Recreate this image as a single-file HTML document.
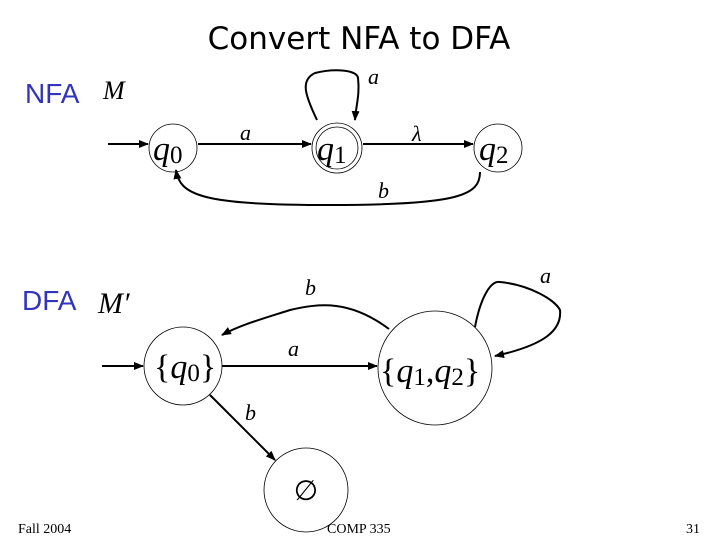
<!DOCTYPE html>
<html><head><meta charset="utf-8"><style>
html,body{margin:0;padding:0;background:#fff}
svg{display:block}
.m{font-family:"Liberation Serif",serif;font-style:italic}
</style></head><body>
<svg width="720" height="540" viewBox="0 0 720 540" xmlns="http://www.w3.org/2000/svg">
<defs><marker id="ar" markerWidth="10" markerHeight="8" refX="9" refY="4" orient="auto" markerUnits="userSpaceOnUse"><path d="M0,0 L10,4 L0,8 z" fill="#000"/></marker></defs>
<text x="359" y="49" text-anchor="middle" font-family="'Comic Sans MS','DejaVu Sans',sans-serif" font-size="31" fill="#000">Convert NFA to DFA</text>
<text x="25" y="103" font-family="'Liberation Sans',sans-serif" font-size="28" fill="#3333bb">NFA</text>
<text x="103" y="99" class="m" font-size="26">M</text>
<text x="22" y="310" font-family="'Liberation Sans',sans-serif" font-size="28" fill="#3333bb">DFA</text>
<text x="98" y="313" class="m" font-size="30">M′</text>
<g fill="none" stroke="#000" stroke-width="0.8">
<circle cx="173" cy="148" r="24"/>
<circle cx="337" cy="148" r="25"/><circle cx="337" cy="148" r="21"/>
<circle cx="498" cy="148" r="24"/>
<circle cx="183" cy="366" r="39"/>
<circle cx="435" cy="368" r="57"/>
<circle cx="306" cy="490" r="42"/>
</g>
<g fill="none" stroke="#000" stroke-width="2">
<line x1="108" y1="144" x2="148" y2="144" marker-end="url(#ar)"/>
<line x1="198" y1="144" x2="311" y2="144" marker-end="url(#ar)"/>
<line x1="363" y1="144" x2="473" y2="144" marker-end="url(#ar)"/>
<path d="M317,120 C305,95 300,80 315,73 C335,68 357,70 358,78 C360,95 356,105 355,120" marker-end="url(#ar)"/>
<path d="M480,172 C480,195 460,205 330,205 C200,205 180,195 176,170" marker-end="url(#ar)"/>
<line x1="102" y1="366" x2="143" y2="366" marker-end="url(#ar)"/>
<line x1="222" y1="366" x2="377" y2="366" marker-end="url(#ar)"/>
<path d="M389,329 C350,300 320,303 290,310 C265,318 240,325 222,335" marker-end="url(#ar)"/>
<path d="M475,327 C480,300 490,280 500,282 C530,285 555,300 560,310 C562,330 545,345 495,356" marker-end="url(#ar)"/>
<line x1="210" y1="395" x2="275" y2="460" marker-end="url(#ar)"/>
</g>
<g class="m" font-size="22">
<text x="240" y="140">a</text>
<text x="368" y="84">a</text>
<text x="412" y="141">λ</text>
<text x="378" y="198">b</text>
<text x="288" y="356">a</text>
<text x="305" y="295">b</text>
<text x="540" y="283">a</text>
<text x="245" y="420">b</text>
</g>
<g font-family="'Liberation Serif',serif" font-size="34">
<text x="153" y="160"><tspan font-style="italic">q</tspan><tspan font-size="25" dy="3">0</tspan></text>
<text x="317" y="160"><tspan font-style="italic">q</tspan><tspan font-size="25" dy="3">1</tspan></text>
<text x="479" y="160"><tspan font-style="italic">q</tspan><tspan font-size="25" dy="3">2</tspan></text>
<text x="154" y="378">{<tspan font-style="italic">q</tspan><tspan font-size="25" dy="3">0</tspan><tspan dy="-3">}</tspan></text>
<text x="380" y="382">{<tspan font-style="italic">q</tspan><tspan font-size="25" dy="3">1</tspan><tspan dy="-3">,</tspan><tspan font-style="italic">q</tspan><tspan font-size="25" dy="3">2</tspan><tspan dy="-3">}</tspan></text>
<text x="306" y="500" text-anchor="middle" font-size="28">∅</text>
</g>
<g font-family="'Liberation Serif',serif" font-size="14">
<text x="18" y="533">Fall 2004</text>
<text x="327" y="533">COMP 335</text>
<text x="686" y="533">31</text>
</g>
</svg>
</body></html>
